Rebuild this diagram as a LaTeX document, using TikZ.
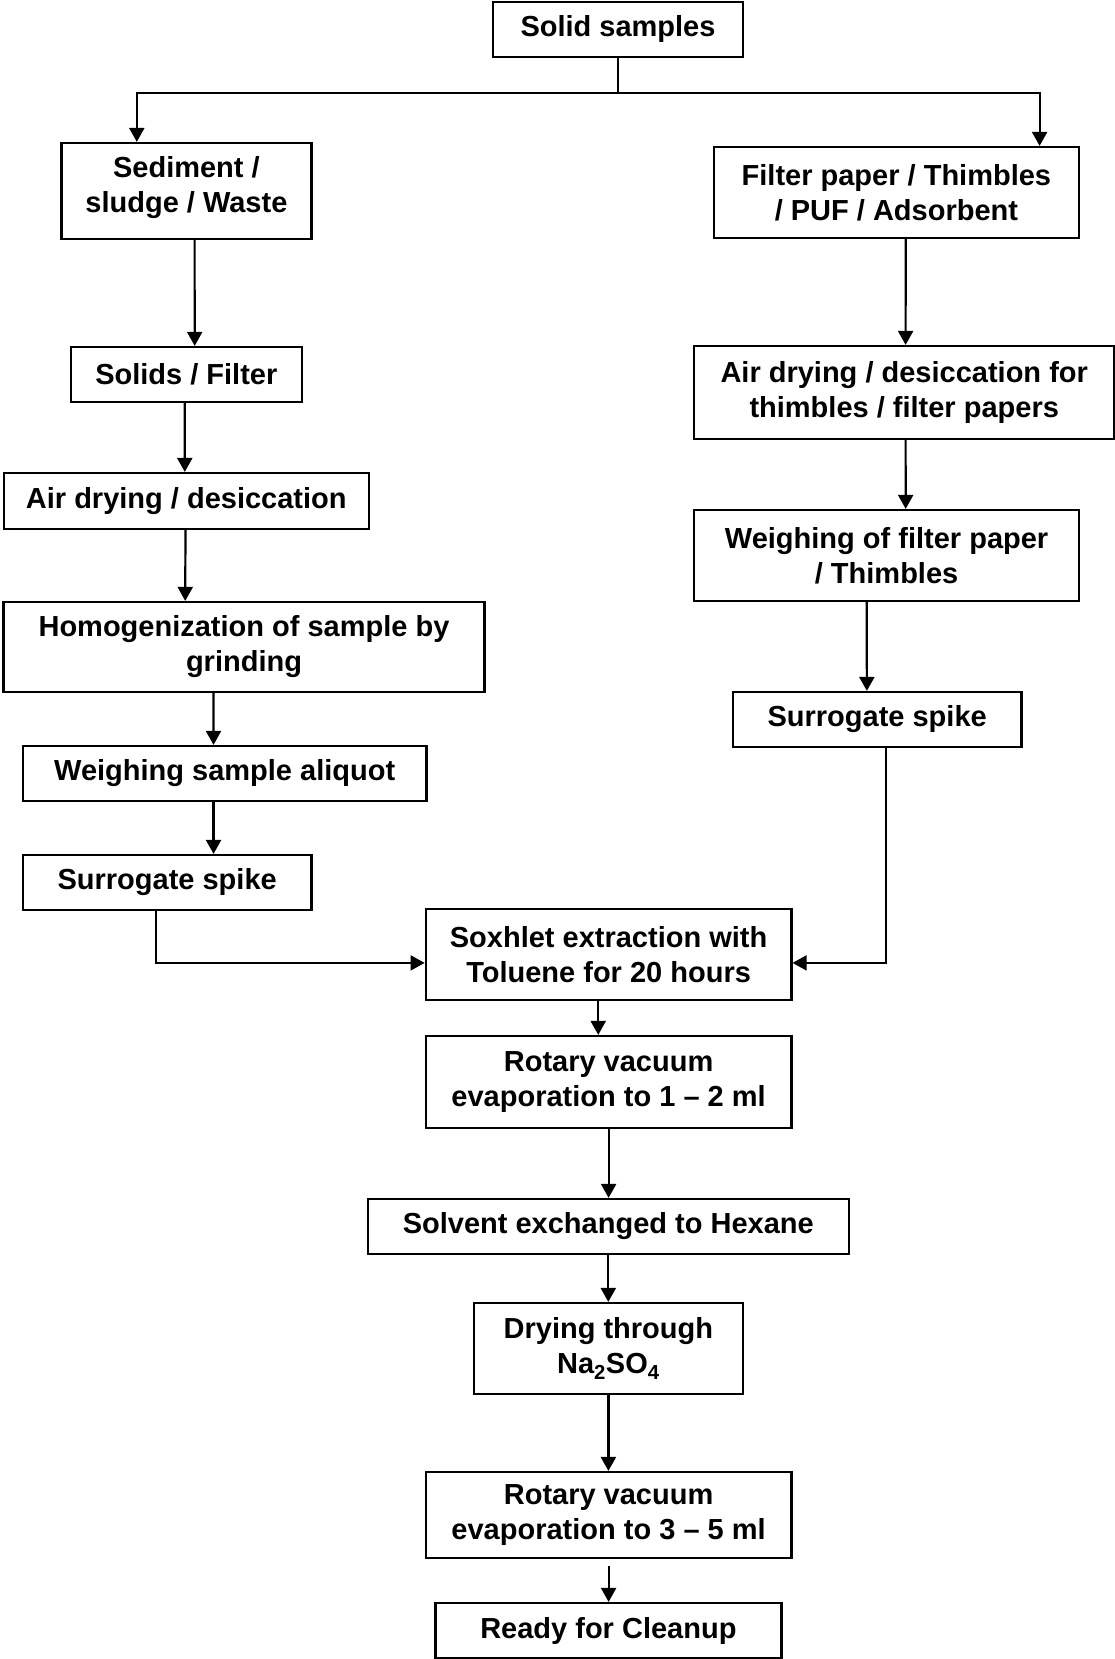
\documentclass[tikz,border=0pt]{standalone}
\usepackage{fontspec}
\setmainfont{Liberation Sans}
\usetikzlibrary{arrows.meta}
\begin{document}
\begin{tikzpicture}[x=1pt,y=-1pt,
  box/.style={draw, line width=2.2pt, rectangle, inner sep=0pt, align=center,
    font=\fontsize{29pt}{35pt}\selectfont\bfseries},
  arr/.style={line width=2.2pt, -{Triangle[length=14pt,width=15pt]}},
  thinarr/.style={line width=1.6pt, -{Triangle[length=14pt,width=15pt]}},
  thinline/.style={line width=1.5pt}]
\useasboundingbox (0,0) rectangle (1115,1659);
% left column
\node[box, minimum width=250pt, minimum height=55pt, line width=1.6pt] (ss) at (618,29.5) {\raisebox{-3pt}{Solid samples}};
\node[box, minimum width=250pt, minimum height=96pt] (sed) at (186.4,191) {Sediment /\\sludge / Waste\\[-21pt]\mbox{}};
\node[box, minimum width=231pt, minimum height=55pt] (sol) at (186.3,374.5) {Solids / Filter};
\node[box, minimum width=365pt, minimum height=56pt] (air) at (186.3,501) {Air drying / desiccation};
\node[box, minimum width=481pt, minimum height=90pt] (hom) at (244,647) {Homogenization of sample by\\grinding};
\node[box, minimum width=403.5pt, minimum height=55pt] (wsa) at (224.7,773.5) {Weighing sample aliquot};
\node[box, minimum width=288.5pt, minimum height=55pt] (ssl) at (167.2,882.5) {Surrogate spike};
% right column
\node[box, minimum width=365pt, minimum height=91pt] (filt) at (896.4,192.5) {Filter paper / Thimbles\\/ PUF / Adsorbent};
\node[box, minimum width=420pt, minimum height=93pt] (ard) at (904.2,392.5) {Air drying / desiccation for\\thimbles / filter papers};
\node[box, minimum width=384.6pt, minimum height=91pt] (wfp) at (886.6,555.5) {Weighing of filter paper\\/ Thimbles};
\node[box, minimum width=288.5pt, minimum height=55pt] (ssr) at (877.2,719.5) {Surrogate spike};
% centre column
\node[box, minimum width=365.7pt, minimum height=91pt] (sox) at (608.6,954.5) {Soxhlet extraction with\\Toluene for 20 hours};
\node[box, minimum width=365.7pt, minimum height=92pt] (rot1) at (608.6,1082) {Rotary vacuum\\evaporation to 1 – 2 ml};
\node[box, minimum width=480.7pt, minimum height=55pt] (slv) at (608.3,1226.5) {Solvent exchanged to Hexane};
\node[box, minimum width=269.6pt, minimum height=91pt] (dry) at (608.4,1348.5) {Drying through\\Na\textsubscript{2}SO\textsubscript{4}};
\node[box, minimum width=365.7pt, minimum height=86pt] (rot2) at (608.6,1515) {Rotary vacuum\\evaporation to 3 – 5 ml};
\node[box, minimum width=346pt, minimum height=55pt] (rdy) at (608.4,1630.5) {Ready for Cleanup};
% connectors
\coordinate (j) at (618,93);
\draw[thinline] (ss.south) -- (j);
\draw[arr] (j) -| ([xshift=76.5pt]sed.north west);
\draw[arr] (j) -| ([xshift=326.8pt]filt.north west);
\draw[arr] ([xshift=134.3pt]sed.south west) -- ([xshift=125pt]sol.north west);
\draw[arr] ([xshift=115pt]sol.south west) -- ([xshift=182.1pt]air.north west);
\draw[arr] ([xshift=182.8pt]air.south west) -- ([xshift=182.8pt]hom.north west);
\draw[arr] ([xshift=211pt]hom.south west) -- ([xshift=191.7pt]wsa.north west);
\draw[arr] ([xshift=191.7pt]wsa.south west) -- ([xshift=191.7pt]ssl.north west);
\draw[thinarr] ([xshift=134.2pt]ssl.south west) |- ([yshift=-55pt]sox.north west);
\draw[arr] ([xshift=192.9pt]filt.south west) -- ([xshift=212.5pt]ard.north west);
\draw[arr] ([xshift=212.5pt]ard.south west) -- ([xshift=212.5pt]wfp.north west);
\draw[arr] ([xshift=173.6pt]wfp.south west) -- ([xshift=135pt]ssr.north west);
\draw[thinarr] ([xshift=153.9pt]ssr.south west) |- ([yshift=-55pt]sox.north east);
\draw[arr] ([xshift=173.6pt]sox.south west) -- ([xshift=173.6pt]rot1.north west);
\draw[arr] (rot1.south) -- (rot1.south |- slv.north);
\draw[arr] (slv.south) -- (slv.south |- dry.north);
\draw[arr] (dry.south) -- (dry.south |- rot2.north);
\draw[arr] ([yshift=-7pt]rot2.south) -- (rot2.south |- rdy.north);
\end{tikzpicture}
\end{document}
